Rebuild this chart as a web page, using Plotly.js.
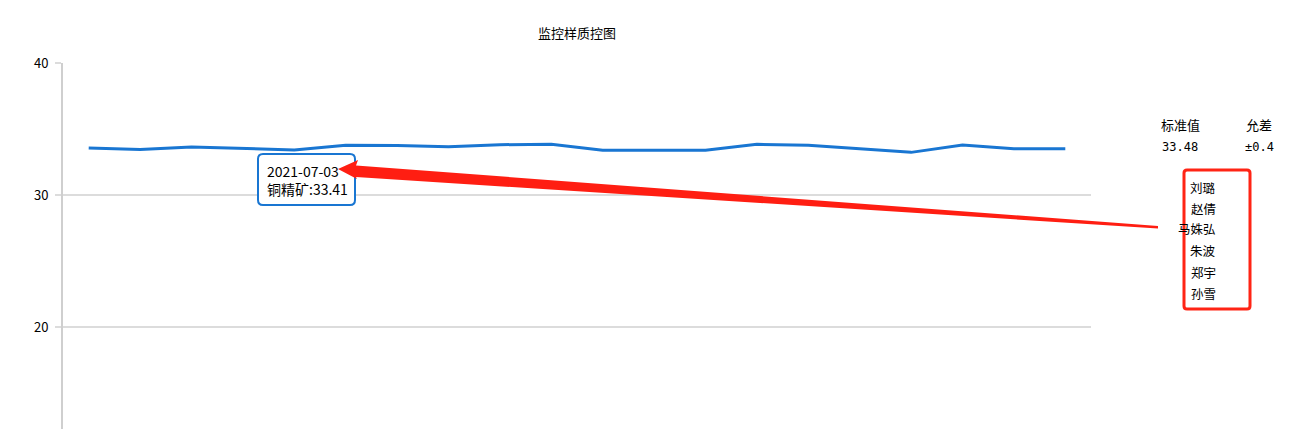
<!DOCTYPE html>
<html>
<head>
<meta charset="utf-8">
<script src="https://cdn.plot.ly/plotly-3.0.1.min.js"></script>
<style>html,body{margin:0;padding:0;background:#fff;overflow:hidden}#chart{width:1315px;height:429px}</style>
</head>
<body>
<div id="chart"></div>
<script>
// ---- data ----
const dates = ['2021-06-29','2021-06-30','2021-07-01','2021-07-02','2021-07-03','2021-07-04','2021-07-05','2021-07-06','2021-07-07','2021-07-08','2021-07-09','2021-07-10','2021-07-11','2021-07-12','2021-07-13','2021-07-14','2021-07-15','2021-07-16','2021-07-17','2021-07-18'];
const values = [33.56, 33.45, 33.64, 33.52, 33.41, 33.77, 33.75, 33.66, 33.81, 33.84, 33.39, 33.39, 33.39, 33.84, 33.77, 33.50, 33.23, 33.79, 33.51, 33.51];
const seriesName = '铜精矿';
const chartTitle = '监控样质控图';
const standardLabel = '标准值';
const toleranceLabel = '允差';
const standardValue = 33.48;
const toleranceValue = 0.4;
const inspectors = ['刘璐','赵倩','马姝弘','朱波','郑宇','孙雪'];
const highlightIndex = 4;
const yTicks = [20, 30, 40];

// ---- layout helpers (pixel -> paper) ----
const L = 63, T = 63, W = 1028, H = 366;
const px = x => (x - L) / W;
const py = y => (T + H - y) / H;

function roundRect(x0, y0, x1, y1, r) {
  const P = (x, y) => px(x) + ',' + py(y);
  return 'M' + P(x0 + r, y0) + ' L' + P(x1 - r, y0) + ' Q' + P(x1, y0) + ' ' + P(x1, y0 + r) +
    ' L' + P(x1, y1 - r) + ' Q' + P(x1, y1) + ' ' + P(x1 - r, y1) +
    ' L' + P(x0 + r, y1) + ' Q' + P(x0, y1) + ' ' + P(x0, y1 - r) +
    ' L' + P(x0, y0 + r) + ' Q' + P(x0, y0) + ' ' + P(x0 + r, y0) + ' Z';
}
function poly(pts) {
  return 'M' + pts.map(p => px(p[0]) + ',' + py(p[1])).join(' L') + ' Z';
}

const font = '"Noto Sans CJK SC", "DejaVu Sans", sans-serif';
const monoFont = '"DejaVu Sans Mono", "Liberation Mono", monospace';

const trace = {
  x: dates,
  y: values,
  type: 'scatter',
  mode: 'lines',
  name: seriesName,
  line: {color: '#1976d2', width: 3},
  hoverinfo: 'skip'
};

const shapes = [
  // tooltip box
  {type: 'path', xref: 'paper', yref: 'paper', path: roundRect(258, 154, 355, 205, 5),
   fillcolor: 'rgba(255,255,255,0.95)', line: {color: '#1976d2', width: 2}},
  // red arrow
  {type: 'path', xref: 'paper', yref: 'paper',
   path: poly([[338, 169], [358, 160], [356, 165.5], [1158, 226], [1158, 228.5], [356, 177], [357, 179]]),
   fillcolor: '#ff1e12', line: {width: 0}},
  // inspectors box
  {type: 'path', xref: 'paper', yref: 'paper', path: roundRect(1184, 170, 1250, 309, 3),
   fillcolor: 'rgba(0,0,0,0)', line: {color: '#ff2415', width: 3}}
];

const ann = [];
function txt(text, x, y, anchor, size, fam) {
  ann.push({text: text, xref: 'paper', yref: 'paper', x: px(x), y: py(y),
    xanchor: anchor, yanchor: 'middle', showarrow: false,
    font: {family: fam || font, size: size, color: '#000'}});
}
txt(dates[highlightIndex], 265, 171, 'left', 14);
txt(seriesName + ':' + values[highlightIndex].toFixed(2), 265, 189, 'left', 14);
txt(standardLabel, 1180, 125, 'center', 13);
txt(toleranceLabel, 1259, 125, 'center', 13);
txt(standardValue.toFixed(2), 1180, 147, 'center', 12, monoFont);
txt('±' + toleranceValue, 1259, 147, 'center', 12, monoFont);
const nameY = [187, 208, 229, 250, 272, 293];
inspectors.forEach((n, i) => txt(n, 1218, nameY[i], 'right', 12.5));

const layout = {
  width: 1315, height: 429,
  margin: {l: L, r: 1315 - L - W, t: T, b: 0, pad: 0},
  paper_bgcolor: '#fff', plot_bgcolor: '#fff',
  showlegend: false,
  hovermode: false,
  title: {text: chartTitle, x: px(577), xref: 'paper', xanchor: 'center', y: 1 - 33 / 429, yanchor: 'middle',
          font: {family: font, size: 13, color: '#000'}},
  xaxis: {type: 'category', range: [-0.5, dates.length - 0.5], showgrid: false, zeroline: false,
          showline: false, showticklabels: false, ticks: ''},
  yaxis: {range: [12.27, 40], tickvals: yTicks, ticktext: yTicks.map(String), showgrid: true,
          gridcolor: '#dcdcdc', gridwidth: 2, zeroline: false, showline: true, linecolor: '#cfcfcf',
          linewidth: 2, ticks: 'outside', ticklen: 6, tickwidth: 2, tickcolor: '#dcdcdc',
          tickfont: {family: font, size: 13, color: '#000'}, ticklabelstandoff: 4},
  shapes: shapes,
  annotations: ann
};

Plotly.newPlot('chart', [trace], layout, {displayModeBar: false, staticPlot: true});
</script>
</body>
</html>
